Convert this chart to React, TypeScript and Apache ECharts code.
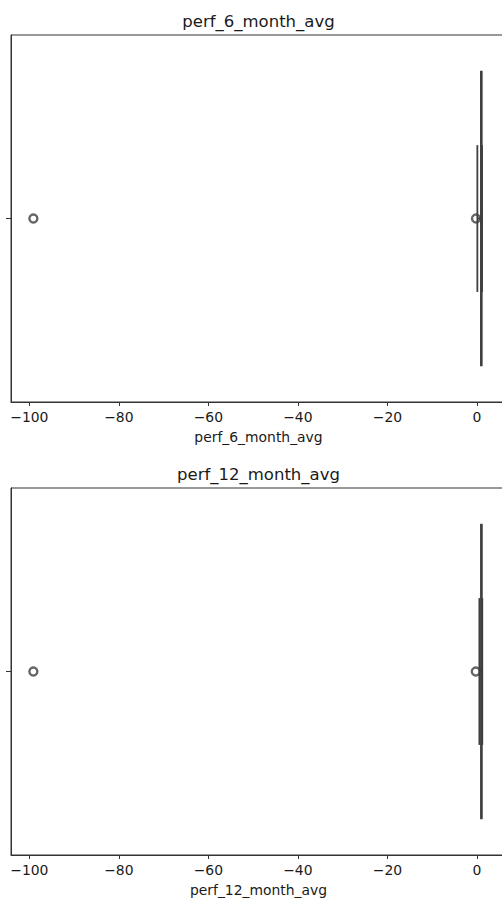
import React, { useEffect, useRef } from "react";
import * as echarts from "echarts";

// ---- data ----
const panelTitles = ["perf_6_month_avg", "perf_12_month_avg"];
const whiskerLow = [0.1, 0.55];
const q1Values = [0.9, 0.92];
const medianValues = [0.98, 1.0];
const q3Values = [1.06, 1.08];
const whiskerHigh = [1.15, 1.2];
const outliers6 = [-99.1, -0.2];
const outliers12 = [-99.1, -0.25];
const outlierSets = [outliers6, outliers12];
const xTicks = [-100, -80, -60, -40, -20, 0];
const xMin = -104.1;
const xMax = 6.5;

const FONT = "DejaVu Sans";
const EDGE = "#3f3f3f";
const TEXT = "#1a1a1a";

const fmt = (v: number) => (v < 0 ? "\u2212" + Math.abs(v) : String(v));

function renderBox(params: any, api: any) {
  const y = api.value(0);
  const lo = api.value(1);
  const q1 = api.value(2);
  const med = api.value(3);
  const q3 = api.value(4);
  const hi = api.value(5);
  const h = Math.abs(api.size([0, 0.8])[1]);
  const capH = h / 2;
  const pLo = api.coord([lo, y]);
  const pQ1 = api.coord([q1, y]);
  const pMed = api.coord([med, y]);
  const pQ3 = api.coord([q3, y]);
  const pHi = api.coord([hi, y]);
  const line = (x1: number, y1: number, x2: number, y2: number) => ({
    type: "line",
    shape: { x1, y1, x2, y2 },
    style: { stroke: EDGE, lineWidth: 1.8 },
  });
  const cy = pMed[1];
  return {
    type: "group",
    children: [
      line(pLo[0], cy, pQ1[0], cy),
      line(pQ3[0], cy, pHi[0], cy),
      line(pLo[0], cy - capH / 2, pLo[0], cy + capH / 2),
      line(pHi[0], cy - capH / 2, pHi[0], cy + capH / 2),
      {
        type: "rect",
        shape: { x: pQ1[0], y: cy - h / 2, width: pQ3[0] - pQ1[0], height: h },
        style: { fill: "#5a5a5a", stroke: EDGE, lineWidth: 1.8 },
      },
      line(pMed[0], cy - h / 2, pMed[0], cy + h / 2),
    ],
  };
}

export default function App() {
  const ref = useRef<HTMLDivElement>(null);
  useEffect(() => {
    document.body.style.margin = "0";
    document.body.style.overflow = "hidden";
    if (!ref.current) return;
    const chart = echarts.init(ref.current, undefined, { renderer: "svg" });
    const gridTops = [35, 488];
    const gridH = 367;
    const grids = gridTops.map((t) => ({
      left: 11,
      top: t,
      width: 495,
      height: gridH,
      show: true,
      borderColor: "#333",
      borderWidth: 1,
      backgroundColor: "#fff",
    }));
    const xAxes = panelTitles.map((name, i) => ({
      type: "value",
      gridIndex: i,
      min: xMin,
      max: xMax,
      name,
      nameLocation: "middle",
      nameGap: 28,
      nameTextStyle: { fontFamily: FONT, fontSize: 13.9, color: TEXT },
      splitLine: { show: false },
      axisLine: { show: true, onZero: false, lineStyle: { color: "#333", width: 1 } },
      axisTick: { show: true, length: 4, customValues: xTicks, lineStyle: { color: "#333" } },
      axisLabel: {
        show: true,
        customValues: xTicks,
        formatter: fmt,
        margin: 8,
        fontFamily: FONT,
        fontSize: 13.9,
        color: TEXT,
      },
    }));
    const yAxes = panelTitles.map((_, i) => ({
      type: "value",
      gridIndex: i,
      min: -0.5,
      max: 0.5,
      inverse: true,
      splitLine: { show: false },
      axisLine: { show: true, onZero: false, lineStyle: { color: "#333", width: 1 } },
      axisTick: { show: true, length: 5, customValues: [0], lineStyle: { color: "#333" } },
      axisLabel: { show: false },
    }));
    const titles = panelTitles.map((t, i) => ({
      text: t,
      left: 258.5,
      textAlign: "center",
      top: gridTops[i] - 22,
      padding: 0,
      textStyle: { fontFamily: FONT, fontSize: 16.5, fontWeight: "normal", color: TEXT },
    }));
    const series: any[] = [];
    panelTitles.forEach((_, i) => {
      series.push({
        type: "custom",
        xAxisIndex: i,
        yAxisIndex: i,
        renderItem: renderBox,
        encode: { x: [1, 2, 3, 4, 5], y: 0 },
        data: [[0, whiskerLow[i], q1Values[i], medianValues[i], q3Values[i], whiskerHigh[i]]],
        z: 3,
      });
      series.push({
        type: "scatter",
        xAxisIndex: i,
        yAxisIndex: i,
        symbol: "circle",
        symbolSize: 8,
        itemStyle: { color: "rgba(255,255,255,0)", borderColor: EDGE, borderWidth: 2.4 },
        data: outlierSets[i].map((v) => [v, 0]),
        z: 4,
      });
    });
    chart.setOption({
      animation: false,
      backgroundColor: "#fff",
      title: titles,
      grid: grids,
      xAxis: xAxes,
      yAxis: yAxes,
      series,
    });
    return () => chart.dispose();
  }, []);
  return <div ref={ref} style={{ width: 520, height: 900 }} />;
}
